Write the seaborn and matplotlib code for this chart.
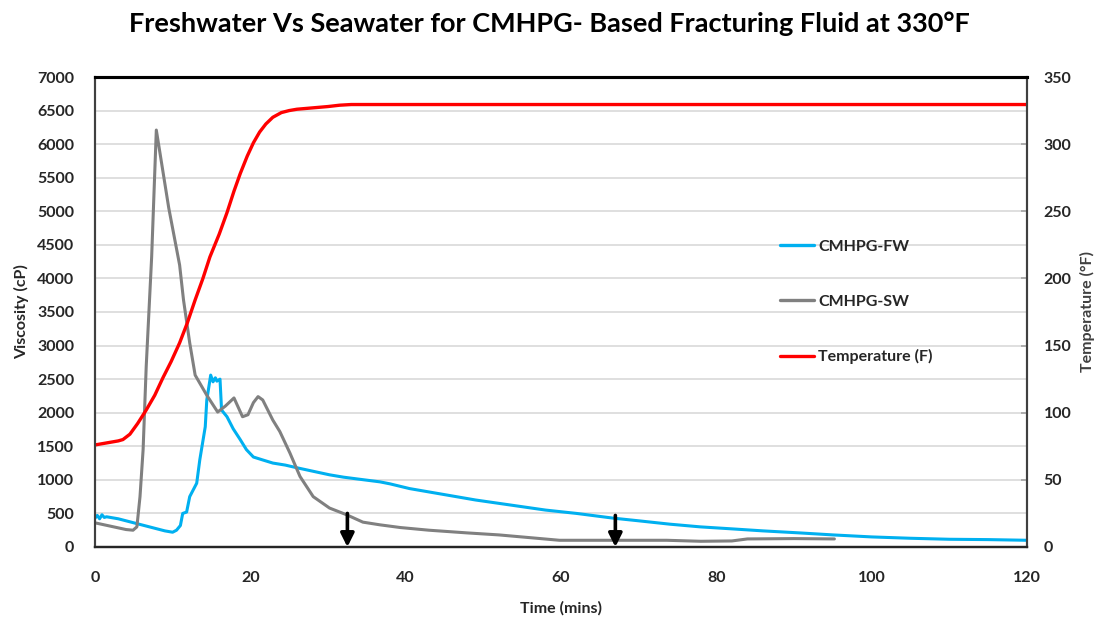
import matplotlib
matplotlib.use("Agg")
import matplotlib.pyplot as plt
import seaborn as sns
import pandas as pd
from matplotlib.lines import Line2D

# ---- data -------------------------------------------------------------
fw_time = [0, 0.3, 0.6, 0.9, 1.2, 1.5, 3, 5, 7, 9, 10, 10.5, 11, 11.3, 11.8,
           12.2, 13.1, 13.5, 14.2, 14.4, 14.9, 15.2, 15.5, 15.7, 16.1, 16.3,
           17, 17.8, 18.7, 19.5, 20.4, 21.5, 22.9, 24.5, 26, 28, 30.2, 32, 34,
           36.7, 38, 40.5, 43, 46, 49, 52, 55, 58, 62, 66.7, 70, 74, 77.9, 82,
           86, 90.7, 95, 100, 105, 110, 115, 120]
fw_visc = [430, 470, 420, 480, 440, 450, 420, 360, 300, 240, 220, 250, 320,
           500, 520, 750, 950, 1300, 1790, 2190, 2560, 2460, 2520, 2470, 2500,
           2040, 1940, 1760, 1600, 1450, 1340, 1300, 1250, 1220, 1180, 1130,
           1075, 1040, 1010, 970, 940, 870, 820, 760, 700, 650, 600, 550, 500,
           430, 390, 340, 300, 270, 240, 210, 180, 150, 130, 115, 110, 100]

sw_time = [0, 2, 4, 4.9, 5.4, 5.8, 6.2, 6.6, 7.3, 7.9, 9.5, 10.9, 11.4, 12.2,
           12.9, 14.4, 15.8, 16.8, 17.9, 19, 19.7, 20.4, 21, 21.6, 22.9, 23.8,
           25.1, 26.4, 28.1, 30.2, 32.4, 34.5, 36.7, 39.3, 43, 47.9, 52, 56.4,
           59.8, 66, 73.6, 78, 82, 84, 90, 95.2]
sw_visc = [360, 310, 260, 250, 300, 750, 1450, 2690, 4320, 6210, 5050, 4200,
           3680, 3040, 2560, 2260, 2010, 2100, 2220, 1940, 1970, 2150, 2240,
           2190, 1890, 1720, 1400, 1050, 750, 580, 480, 370, 330, 290, 250,
           210, 180, 135, 100, 100, 100, 85, 90, 120, 125, 120]

temp_time = [0, 1, 2, 3, 3.6, 4.5, 5.5, 6.6, 7.7, 8.75, 9.8, 10.9, 11.9, 12.9,
             13.9, 14.8, 16, 17, 17.9, 18.7, 19.6, 20.4, 21.2, 22, 22.9, 24,
             25, 26, 28, 30, 31.5, 33, 40, 60, 80, 100, 120]
temp_f = [76, 77, 78, 79, 80, 84, 92, 102, 113, 126, 138, 152, 167, 184, 200,
          216, 233, 249, 265, 278, 291, 301, 309, 315, 320, 323.5, 325, 326,
          327, 328, 329, 329.5, 329.5, 329.5, 329.5, 329.5, 329.5]

# break points marked with arrows (time, viscosity at the curve)
arrow_time = [32.5, 67]
arrow_visc = [500, 470]

series_labels = ["CMHPG-FW", "CMHPG-SW", "Temperature (F)"]
colors = ["#00B0F0", "#808080", "#FF0000"]

x_ticks = [0, 20, 40, 60, 80, 100, 120]
visc_ticks = list(range(0, 7001, 500))
temp_ticks = list(range(0, 351, 50))

title = "Freshwater Vs Seawater for CMHPG- Based Fracturing Fluid at 330°F"

# ---- figure -------------------------------------------------------------
sns.set_theme(style="white")
plt.rcParams["font.family"] = ["Lato", "DejaVu Sans"]

fig = plt.figure(figsize=(10.99, 6.18), dpi=100)
ax = fig.add_axes([0.0864, 0.1149, 0.8481, 0.7605])
ax2 = ax.twinx()

fw = pd.DataFrame({"time": fw_time, "visc": fw_visc})
sw = pd.DataFrame({"time": sw_time, "visc": sw_visc})
tp = pd.DataFrame({"time": temp_time, "temp": temp_f})

sns.lineplot(data=fw, x="time", y="visc", ax=ax, color=colors[0], lw=2.2,
             sort=False, estimator=None)
sns.lineplot(data=sw, x="time", y="visc", ax=ax, color=colors[1], lw=2.2,
             sort=False, estimator=None)
sns.lineplot(data=tp, x="time", y="temp", ax=ax2, color=colors[2], lw=2.4,
             sort=False, estimator=None)

for t, v in zip(arrow_time, arrow_visc):
    ax.annotate("", xy=(t, 0), xytext=(t, v),
                arrowprops=dict(arrowstyle="-|>", color="black", lw=2.6,
                                mutation_scale=20, shrinkA=0, shrinkB=0),
                zorder=5)

ax.set_xlim(0, 120)
ax.set_ylim(0, 7000)
ax2.set_ylim(0, 350)
ax.set_xticks(x_ticks)
ax.set_yticks(visc_ticks)
ax2.set_yticks(temp_ticks)

ax.grid(axis="y", color="#D9D9D9", lw=1.2)
ax.grid(axis="x", visible=False)
ax2.grid(False)
ax.set_axisbelow(True)

tick_font = dict(fontsize=11.5, fontweight="bold", color="#262626")
ax.set_xticklabels([str(v) for v in x_ticks], **tick_font)
ax.set_yticklabels([str(v) for v in visc_ticks], **tick_font)
ax2.set_yticklabels([str(v) for v in temp_ticks], **tick_font)

ax.tick_params(axis="x", direction="in", length=4, color="#A6A6A6", pad=17)
ax.tick_params(axis="y", direction="in", length=0, pad=15)
ax2.tick_params(axis="y", direction="in", length=4, color="#A6A6A6", pad=12)

ax.set_xlabel("Time (mins)", fontsize=11.5, fontweight="bold",
              color="#262626", labelpad=12)
ax.set_ylabel("Viscosity (cP)", fontsize=11.5, fontweight="bold",
              color="#262626", labelpad=6)
ax2.set_ylabel("Temperature (°F)", fontsize=11.5, fontweight="bold",
               color="#404040", labelpad=6)

for a in (ax, ax2):
    a.spines["top"].set_color("black")
    a.spines["top"].set_linewidth(2.2)
    a.spines["bottom"].set_color("#262626")
    a.spines["bottom"].set_linewidth(1.6)
    a.spines["left"].set_color("#404040")
    a.spines["left"].set_linewidth(1.5)
    a.spines["right"].set_color("#404040")
    a.spines["right"].set_linewidth(1.5)

handles = [Line2D([], [], color=c, lw=2.4) for c in colors]
leg = ax.legend(handles, series_labels, loc="upper left",
                bbox_to_anchor=(0.72, 0.685), frameon=False,
                handlelength=2.1, handletextpad=0.25, labelspacing=2.55,
                prop=dict(family=["Lato", "DejaVu Sans"], weight="bold",
                          size=11.5))
for txt in leg.get_texts():
    txt.set_color("#262626")

fig.text(0.5, 0.962, title, ha="center", va="center", fontsize=19.5,
         fontweight="bold", color="black")

fig.savefig("out.png", dpi=100, facecolor="white")
